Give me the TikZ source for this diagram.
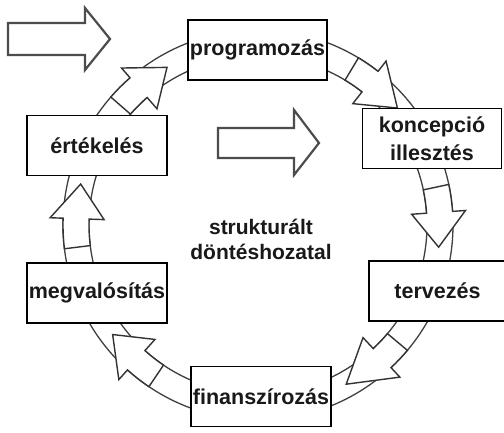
\documentclass[tikz,border=0pt]{standalone}
\usepackage{fontspec}
\setmainfont{Liberation Sans}
\begin{document}
\begin{tikzpicture}[x=1pt,y=-1pt]
\tikzset{
  box/.style={draw=black, line width=1.6pt, fill=white, minimum width=139pt, minimum height=60pt,
    inner sep=0pt, align=center, text=black!90, font=\bfseries\fontsize{21.5}{28}\selectfont},
  ringline/.style={draw=black!75, line width=1.3pt},
  ringarr/.style={draw=black!80, line width=1.4pt, fill=white, line join=miter},
  bigarr/.style={draw=black!70, line width=2.2pt, fill=white, line join=miter},
  centertext/.style={align=center, text=black!90, font=\bfseries\fontsize{21}{25}\selectfont}
}
\newcommand\ringarrow[3]{%
  \draw[ringarr] (#1:195) arc[start angle=#1, end angle=#2, radius=195]
    -- (#2:208) -- (#3:182) -- (#2:154) -- (#2:169)
    arc[start angle=#2, end angle=#1, radius=169] -- cycle;}
\useasboundingbox (0,0) rectangle (504,433);
\fill[white] (0,0) rectangle (504,433);
% ring and its arrows
\begin{scope}[shift={(258,225)}, yscale=-1]
  \coordinate (ringcentre) at (0,0);
  \draw[ringline] (ringcentre) circle[radius=195];
  \draw[ringline] (ringcentre) circle[radius=169];
  \ringarrow{139}{131}{120}
  \ringarrow{59}{52}{40}
  \ringarrow{12}{4}{-7}
  \ringarrow{-40}{-47}{-61}
  \ringarrow{236}{228}{217}
  \ringarrow{187}{178}{167}
\end{scope}
% boxes
\node[box] (prog) at (257.5,50) {programozás};
\node[box] (konc) at (432,138.5) {koncepció\\illesztés};
\node[box, minimum width=137pt] (terv) at (437.5,291) {tervezés};
\node[box, minimum width=140pt] (fin) at (261,396.5) {finanszírozás};
\node[box, minimum width=140pt] (megv) at (97,293) {megvalósítás};
\node[box, minimum width=140pt] (ert) at (97,145.5) {értékelés};
% centre label
\node[centertext] (label) at (261,239) {strukturált\\döntéshozatal};
% big hollow arrows
\draw[bigarr] (8,23) -- (85,23) -- (85,8) -- (110,39) -- (85,70) -- (85,55) -- (8,55) -- cycle;
\draw[bigarr] (218,128) -- (294,128) -- (294,110) -- (319,143) -- (294,175) -- (294,158) -- (218,158) -- cycle;
\end{tikzpicture}
\end{document}
